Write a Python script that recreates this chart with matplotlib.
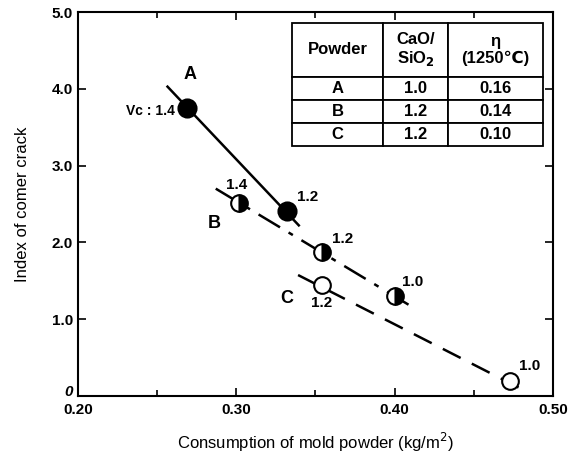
import numpy as np
import matplotlib.pyplot as plt

plt.rcParams['font.family'] = ['Liberation Sans', 'DejaVu Sans']

# powder A (filled), B (half filled), C (open)
xa = [0.269, 0.332]
ya = [3.75, 2.41]
la = ['Vc : 1.4', '1.2']
xb = [0.302, 0.354, 0.400]
yb = [2.51, 1.875, 1.30]
lb = ['1.4', '1.2', '1.0']
xc = [0.354, 0.473]
yc = [1.445, 0.195]
lc = ['1.2', '1.0']

# fitted trend lines (end points)
line_a = ([0.256, 0.340], [4.04, 2.21])
line_b = ([0.287, 0.4135], [2.70, 1.13])
line_c = ([0.339, 0.484], [1.575, 0.05])

col_labels = ['Powder', 'CaO/\nSiO$_\\mathbf{2}$', 'η\n(1250℃)']
tbl_rows = [['A', '1.0', '0.16'],
            ['B', '1.2', '0.14'],
            ['C', '1.2', '0.10']]

fig = plt.figure(figsize=(5.68, 4.57), dpi=100)
ax = fig.add_axes([0.1373, 0.1335, 0.8363, 0.8402])

ax.plot(*line_a, color='black', lw=1.8, solid_capstyle='butt')
ax.plot(*line_b, color='black', lw=1.8, dashes=[10, 4, 2, 4])
ax.plot(*line_c, color='black', lw=1.8, dashes=[8, 5])

ax.plot(xa, ya, 'o', ms=13, mfc='black', mec='black', mew=1.5)
ax.plot(xb, yb, 'o', ms=12, fillstyle='right', mfc='black', mfcalt='white',
        mec='black', mew=1.5)
ax.plot(xc, yc, 'o', ms=12, mfc='white', mec='black', mew=1.5)

fs = 11
ax.annotate(la[0], (xa[0], ya[0]), xytext=(-9, -2), textcoords='offset points',
            ha='right', va='center', fontsize=10, fontweight='bold')
ax.annotate(la[1], (xa[1], ya[1]), xytext=(7, 5), textcoords='offset points',
            ha='left', va='bottom', fontsize=fs, fontweight='bold')
ax.annotate(lb[0], (xb[0], yb[0]), xytext=(-2, 8), textcoords='offset points',
            ha='center', va='bottom', fontsize=fs, fontweight='bold')
ax.annotate(lb[1], (xb[1], yb[1]), xytext=(7, 4), textcoords='offset points',
            ha='left', va='bottom', fontsize=fs, fontweight='bold')
ax.annotate(lb[2], (xb[2], yb[2]), xytext=(5, 5), textcoords='offset points',
            ha='left', va='bottom', fontsize=fs, fontweight='bold')
ax.annotate(lc[0], (xc[0], yc[0]), xytext=(0, -8), textcoords='offset points',
            ha='center', va='top', fontsize=fs, fontweight='bold')
ax.annotate(lc[1], (xc[1], yc[1]), xytext=(6, 6), textcoords='offset points',
            ha='left', va='bottom', fontsize=fs, fontweight='bold')

ax.text(0.271, 4.18, 'A', fontsize=13, fontweight='bold', ha='center', va='center')
ax.text(0.286, 2.24, 'B', fontsize=13, fontweight='bold', ha='center', va='center')
ax.text(0.332, 1.27, 'C', fontsize=13, fontweight='bold', ha='center', va='center')

ax.set_xlim(0.20, 0.50)
ax.set_ylim(0, 5.0)
ax.set_xticks([0.20, 0.30, 0.40, 0.50])
ax.set_xticklabels(['0.20', '0.30', '0.40', '0.50'])
ax.set_xticks([0.25, 0.35, 0.45], minor=True)
ax.set_yticks([0, 1, 2, 3, 4, 5])
ax.set_yticklabels(['0', '1.0', '2.0', '3.0', '4.0', '5.0'])
ax.tick_params(which='both', direction='in', top=True, right=True,
               labelsize=11, width=1.2)
ax.tick_params(which='major', length=6)
ax.tick_params(which='minor', length=4)
ax.tick_params(axis='x', pad=5)
for t in ax.get_xticklabels() + ax.get_yticklabels():
    t.set_fontweight('bold')
ylabs = ax.get_yticklabels()
ylabs[0].set_va('baseline')
ylabs[0].set_style('italic')

for s in ax.spines.values():
    s.set_linewidth(1.5)

ax.set_xlabel('Consumption of mold powder (kg/m$^2$)', fontsize=12, labelpad=10)
ax.set_ylabel('Index of comer crack', fontsize=12, labelpad=16)

tbl = ax.table(cellText=tbl_rows, colLabels=col_labels, cellLoc='center',
               colWidths=[91, 65, 95], bbox=[0.4505, 0.651, 0.5285, 0.32])
tbl.auto_set_font_size(False)
for (r, c), cell in tbl.get_celld().items():
    cell.set_linewidth(1.3)
    cell.set_text_props(fontsize=12, fontweight='bold')
    cell.set_height(53 if r == 0 else 23)
    if r == 0:
        cell.get_text().set_linespacing(1.1)

fig.savefig('out.png', dpi=100)
